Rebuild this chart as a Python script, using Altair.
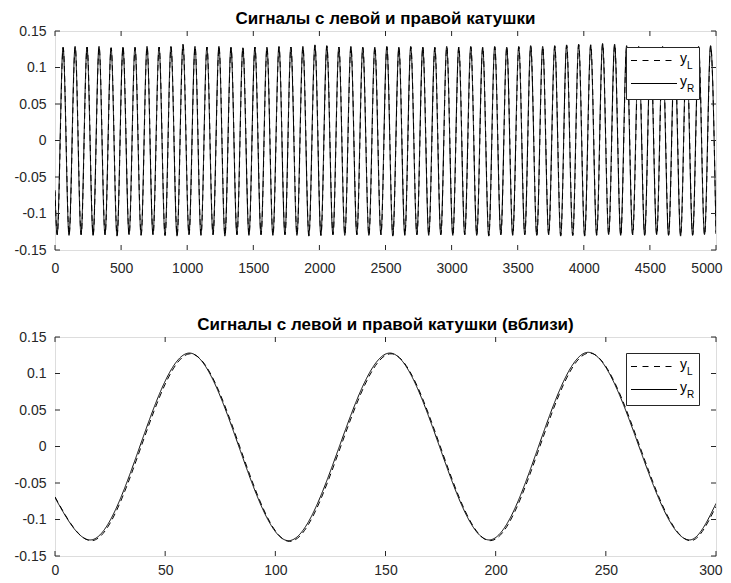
import altair as alt
import pandas as pd

# ---------------- data ----------------
# Top panel: sample index of each extreme (troughs and peaks) and their values
trough_x = [16, 106, 197, 288, 378, 469, 560, 651, 741, 832, 923, 1013, 1104, 1195, 1285,
            1376, 1467, 1558, 1648, 1739, 1830, 1920, 2011, 2102, 2192, 2283, 2374, 2465,
            2555, 2646, 2737, 2827, 2918, 3009, 3099, 3190, 3281, 3372, 3462, 3553, 3644,
            3734, 3825, 3916, 4006, 4097, 4188, 4279, 4369, 4460, 4551, 4641, 4732, 4823, 4913]
peak_x = [61, 152, 242, 333, 424, 514, 605, 696, 787, 877, 968, 1059, 1149, 1240, 1331,
          1421, 1512, 1603, 1694, 1784, 1875, 1966, 2056, 2147, 2238, 2328, 2419, 2510,
          2601, 2691, 2782, 2873, 2963, 3054, 3145, 3235, 3326, 3417, 3508, 3598, 3689,
          3780, 3870, 3961, 4052, 4142, 4233, 4324, 4415, 4505, 4596, 4687, 4777, 4868, 4959]

peak_R = [0.128, 0.129, 0.128, 0.129, 0.127, 0.128, 0.128, 0.129, 0.128, 0.129, 0.132,
          0.129, 0.128, 0.129, 0.128, 0.127, 0.128, 0.128, 0.129, 0.128, 0.129, 0.131,
          0.130, 0.128, 0.129, 0.128, 0.128, 0.129, 0.128, 0.129, 0.128, 0.128, 0.129,
          0.128, 0.129, 0.128, 0.129, 0.128, 0.129, 0.130, 0.129, 0.130, 0.131, 0.132,
          0.131, 0.133, 0.132, 0.130, 0.129, 0.128, 0.129, 0.128, 0.127, 0.129, 0.130]
trough_R = [-0.129, -0.130, -0.129, -0.130, -0.129, -0.131, -0.129, -0.130, -0.129, -0.130,
            -0.131, -0.129, -0.130, -0.129, -0.131, -0.129, -0.130, -0.129, -0.130, -0.129,
            -0.130, -0.131, -0.130, -0.129, -0.130, -0.129, -0.130, -0.129, -0.131, -0.130,
            -0.129, -0.130, -0.129, -0.130, -0.129, -0.130, -0.131, -0.129, -0.130, -0.129,
            -0.130, -0.129, -0.131, -0.130, -0.131, -0.130, -0.129, -0.130, -0.129, -0.130,
            -0.129, -0.130, -0.131, -0.130, -0.129]
peak_L = [0.127, 0.128, 0.128, 0.128, 0.127, 0.128, 0.127, 0.128, 0.128, 0.128, 0.131,
          0.128, 0.128, 0.128, 0.127, 0.127, 0.128, 0.127, 0.128, 0.128, 0.128, 0.130,
          0.129, 0.128, 0.128, 0.127, 0.128, 0.128, 0.127, 0.128, 0.128, 0.127, 0.128,
          0.128, 0.128, 0.127, 0.128, 0.128, 0.128, 0.129, 0.128, 0.129, 0.130, 0.131,
          0.131, 0.132, 0.131, 0.129, 0.128, 0.128, 0.128, 0.127, 0.127, 0.128, 0.129]
trough_L = [-0.129, -0.129, -0.129, -0.129, -0.129, -0.130, -0.129, -0.129, -0.129, -0.130,
            -0.130, -0.129, -0.129, -0.129, -0.130, -0.129, -0.129, -0.129, -0.130, -0.129,
            -0.129, -0.130, -0.130, -0.129, -0.129, -0.129, -0.130, -0.129, -0.130, -0.129,
            -0.129, -0.129, -0.129, -0.130, -0.129, -0.129, -0.130, -0.129, -0.129, -0.129,
            -0.130, -0.129, -0.130, -0.130, -0.130, -0.129, -0.129, -0.130, -0.129, -0.129,
            -0.129, -0.129, -0.130, -0.129, -0.129]
start_R, end_R = -0.070, -0.126
start_L, end_L = -0.068, -0.128
x_end = 5000

# Bottom panel (zoom 0..300): extremes of each signal
zoom_R_x = [0, 16, 61, 106, 152, 197, 242, 288, 300]
zoom_R_y = [-0.070, -0.128, 0.128, -0.129, 0.128, -0.128, 0.129, -0.128, -0.078]
zoom_L_x = [0, 16.5, 61.5, 106.5, 152.5, 197.5, 242.5, 288.5, 300]
zoom_L_y = [-0.069, -0.129, 0.127, -0.130, 0.127, -0.129, 0.128, -0.129, -0.082]

series_names = ["yL", "yR"]
x_ticks_top = [0, 500, 1000, 1500, 2000, 2500, 3000, 3500, 4000, 4500, 5000]
x_ticks_bottom = [0, 50, 100, 150, 200, 250, 300]
y_ticks = [-0.15, -0.1, -0.05, 0, 0.05, 0.1, 0.15]
title_top = "Сигналы с левой и правой катушки"
title_bottom = "Сигналы с левой и правой катушки (вблизи)"

# ---------------- build tables ----------------
def build(series, start, troughs, peaks, end, shift):
    rows = [(0, start)]
    for tx, tv, px, pv in zip(trough_x, troughs, peak_x, peaks):
        rows.append((tx + shift, tv))
        rows.append((px + shift, pv))
    rows.append((x_end, end))
    return pd.DataFrame({"x": [r[0] for r in rows], "y": [r[1] for r in rows], "s": series})

top_df = pd.concat([
    build("yL", start_L, trough_L, peak_L, end_L, 1),
    build("yR", start_R, trough_R, peak_R, end_R, 0),
])
bot_df = pd.concat([
    pd.DataFrame({"x": zoom_L_x, "y": zoom_L_y, "s": "yL"}),
    pd.DataFrame({"x": zoom_R_x, "y": zoom_R_y, "s": "yR"}),
])

W, H = 661, 219
FONT = "Liberation Sans"
AX = "#262626"
TICK = 5


def panel(df, xmax, xticks, title, lab_pad):
    xs = alt.Scale(domain=[0, xmax], nice=False, zero=False)
    ys = alt.Scale(domain=[-0.15, 0.15], nice=False, zero=False)
    last = xticks[-1]
    xaxis = alt.Axis(values=xticks, ticks=False, domain=False, grid=False, title=None,
                     labelFontSize=14, labelFont=FONT, labelColor=AX, labelPadding=lab_pad,
                     labelFlush=False, labelOverlap=False, labelBound=False,
                     labelExpr="'' + datum.value",
                     labelAlign=alt.condition(f"datum.value == {last}", alt.value("right"),
                                              alt.value("center")),
                     labelOffset=alt.condition(f"datum.value == {last}", alt.value(6),
                                               alt.value(0)),
                     minExtent=lab_pad + 14, maxExtent=lab_pad + 14)
    yaxis = alt.Axis(values=y_ticks, ticks=False, domain=False, grid=False, title=None,
                     labelFontSize=14, labelFont=FONT, labelColor=AX, labelPadding=9,
                     labelExpr="'' + datum.value", labelOverlap=False,
                     minExtent=46, maxExtent=46)
    lines = alt.Chart(df).mark_line(interpolate="monotone", color="black",
                                    strokeWidth=1, clip=True).encode(
        x=alt.X("x:Q", scale=xs, axis=xaxis, title=None),
        y=alt.Y("y:Q", scale=ys, axis=yaxis, title=None),
        strokeDash=alt.StrokeDash("s:N", scale=alt.Scale(domain=series_names,
                                                         range=[[6, 4], [1, 0]]),
                                  legend=None),
        detail="s:N",
    )
    xt = pd.DataFrame({"x": xticks})
    yt = pd.DataFrame({"y": y_ticks})
    tb = alt.Chart(xt).mark_rule(color=AX, strokeWidth=1).encode(
        x=alt.X("x:Q", scale=xs, axis=xaxis, title=None),
        y=alt.value(H), y2=alt.value(H - TICK))
    tt = alt.Chart(xt).mark_rule(color=AX, strokeWidth=1).encode(
        x=alt.X("x:Q", scale=xs, axis=xaxis, title=None),
        y=alt.value(0), y2=alt.value(TICK))
    tl = alt.Chart(yt).mark_rule(color=AX, strokeWidth=1).encode(
        y=alt.Y("y:Q", scale=ys, axis=yaxis, title=None),
        x=alt.value(0), x2=alt.value(TICK))
    tr = alt.Chart(yt).mark_rule(color=AX, strokeWidth=1).encode(
        y=alt.Y("y:Q", scale=ys, axis=yaxis, title=None),
        x=alt.value(W), x2=alt.value(W - TICK))

    one = pd.DataFrame({"a": [0]})
    box = alt.Chart(one).mark_rect(fill="white", stroke=AX, strokeWidth=1).encode(
        x=alt.value(571.5), x2=alt.value(644.5), y=alt.value(16.5), y2=alt.value(68.5))
    l1 = alt.Chart(one).mark_rule(color="black", strokeWidth=1,
                                  strokeDash=[6, 5.5]).encode(
        x=alt.value(576), x2=alt.value(622), y=alt.value(29.5))
    l2 = alt.Chart(one).mark_rule(color="black", strokeWidth=1).encode(
        x=alt.value(576), x2=alt.value(622), y=alt.value(52.5))
    ty1 = alt.Chart(one).mark_text(text="y", font=FONT, fontSize=14, color="black",
                                   align="left", baseline="alphabetic").encode(
        x=alt.value(625), y=alt.value(32))
    ts1 = alt.Chart(one).mark_text(text="L", font=FONT, fontSize=10, color="black",
                                   align="left", baseline="alphabetic").encode(
        x=alt.value(632), y=alt.value(38))
    ty2 = alt.Chart(one).mark_text(text="y", font=FONT, fontSize=14, color="black",
                                   align="left", baseline="alphabetic").encode(
        x=alt.value(625), y=alt.value(55))
    ts2 = alt.Chart(one).mark_text(text="R", font=FONT, fontSize=10, color="black",
                                   align="left", baseline="alphabetic").encode(
        x=alt.value(632), y=alt.value(61))

    return alt.layer(lines, tb, tt, tl, tr, box, l1, l2, ty1, ts1, ty2, ts2).properties(
        width=W, height=H,
        title=alt.TitleParams(text=title, fontSize=17, fontWeight="bold", font=FONT,
                              color="black", anchor="middle", offset=-17, frame="group",
                              baseline="alphabetic"),
    )


chart = alt.vconcat(
    panel(top_df, x_end, x_ticks_top, title_top, 11),
    panel(bot_df, 300, x_ticks_bottom, title_bottom, 7),
    spacing=39,
).properties(
    padding={"left": 0, "top": 1, "right": 0, "bottom": 0},
).configure_view(stroke=AX, strokeWidth=1).configure(background="white")

chart.save("out.html", embed_options={"renderer": "svg", "actions": False})
